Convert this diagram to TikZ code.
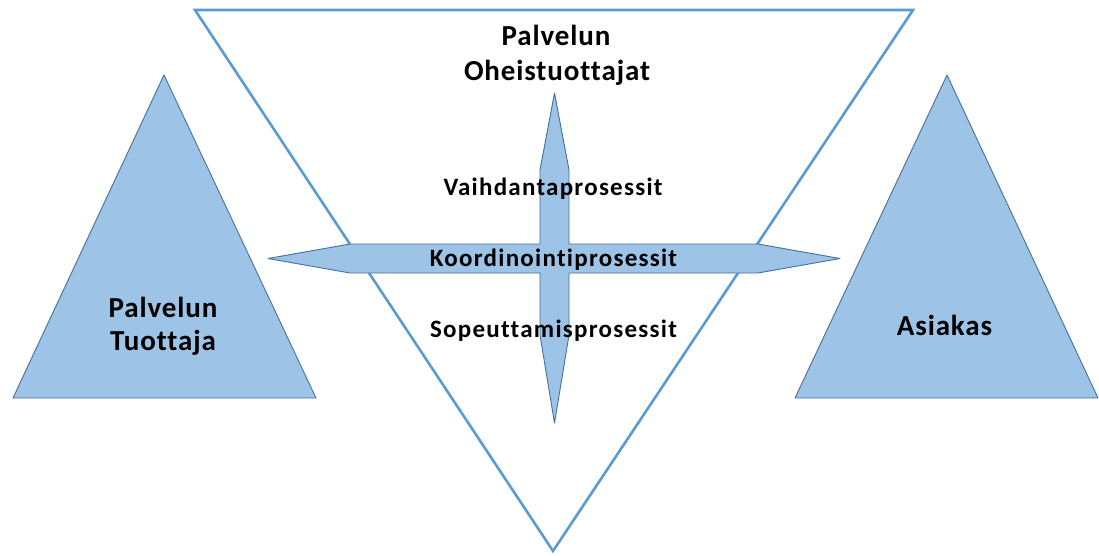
\documentclass[tikz,border=0pt]{standalone}
\usepackage{fontspec}
\setmainfont{Carlito}
\newfontfamily\labelfont[LetterSpace=3,Ligatures=NoCommon]{Carlito}
\newfontfamily\procfont[LetterSpace=5,Ligatures=NoCommon]{Carlito}
\definecolor{outerblue}{HTML}{5B9BD5}
\definecolor{shapefill}{HTML}{9DC3E6}
\definecolor{shapeline}{HTML}{41719C}
\begin{document}
\begin{tikzpicture}[x=1pt,y=-1pt,
  bigframe/.style={draw=outerblue,line width=2.6pt,fill=white,line join=miter},
  solid/.style={draw=shapeline,line width=0.9pt,fill=shapefill,line join=round},
  biglabel/.style={font=\labelfont\bfseries\fontsize{29}{34}\selectfont,align=center,inner sep=0pt,anchor=base},
  proclabel/.style={font=\procfont\bfseries\fontsize{25}{28}\selectfont,inner sep=0pt,anchor=base}]
\useasboundingbox (0,0) rectangle (1099,555);

% inverted triangle of the supporting producers
\draw[bigframe] (195,10) -- (913,10) -- (553,551) -- cycle;

% four-pointed cross of the processes
\draw[solid] (268,258.5) -- (350,244) -- (540,244) -- (540,170) -- (554.5,93)
  -- (569,170) -- (569,244) -- (758,244) -- (840,258.5) -- (758,273)
  -- (569,273) -- (569,335) -- (554.5,423) -- (540,335) -- (540,273)
  -- (350,273) -- cycle;

% producer and customer triangles
\draw[solid] (164,75) -- (316,398) -- (13,398) -- cycle;
\draw[solid] (947,75) -- (1098,398) -- (795,398) -- cycle;

% labels
\node[biglabel] (oheis1) at (556,45) {Palvelun};
\node[biglabel] (oheis2) at (557,80) {Oheistuottajat};
\node[biglabel] (tuott1) at (163,317) {Palvelun};
\node[biglabel] (tuott2) at (163,350) {Tuottaja};
\node[biglabel] (asiakas) at (944.5,335) {Asiakas};
\node[proclabel] (vaihd) at (553,195) {Vaihdantaprosessit};
\node[proclabel] (koord) at (553.5,266) {Koordinointiprosessit};
\node[proclabel] (sopeu) at (553.5,337) {Sopeuttamisprosessit};
\end{tikzpicture}
\end{document}
